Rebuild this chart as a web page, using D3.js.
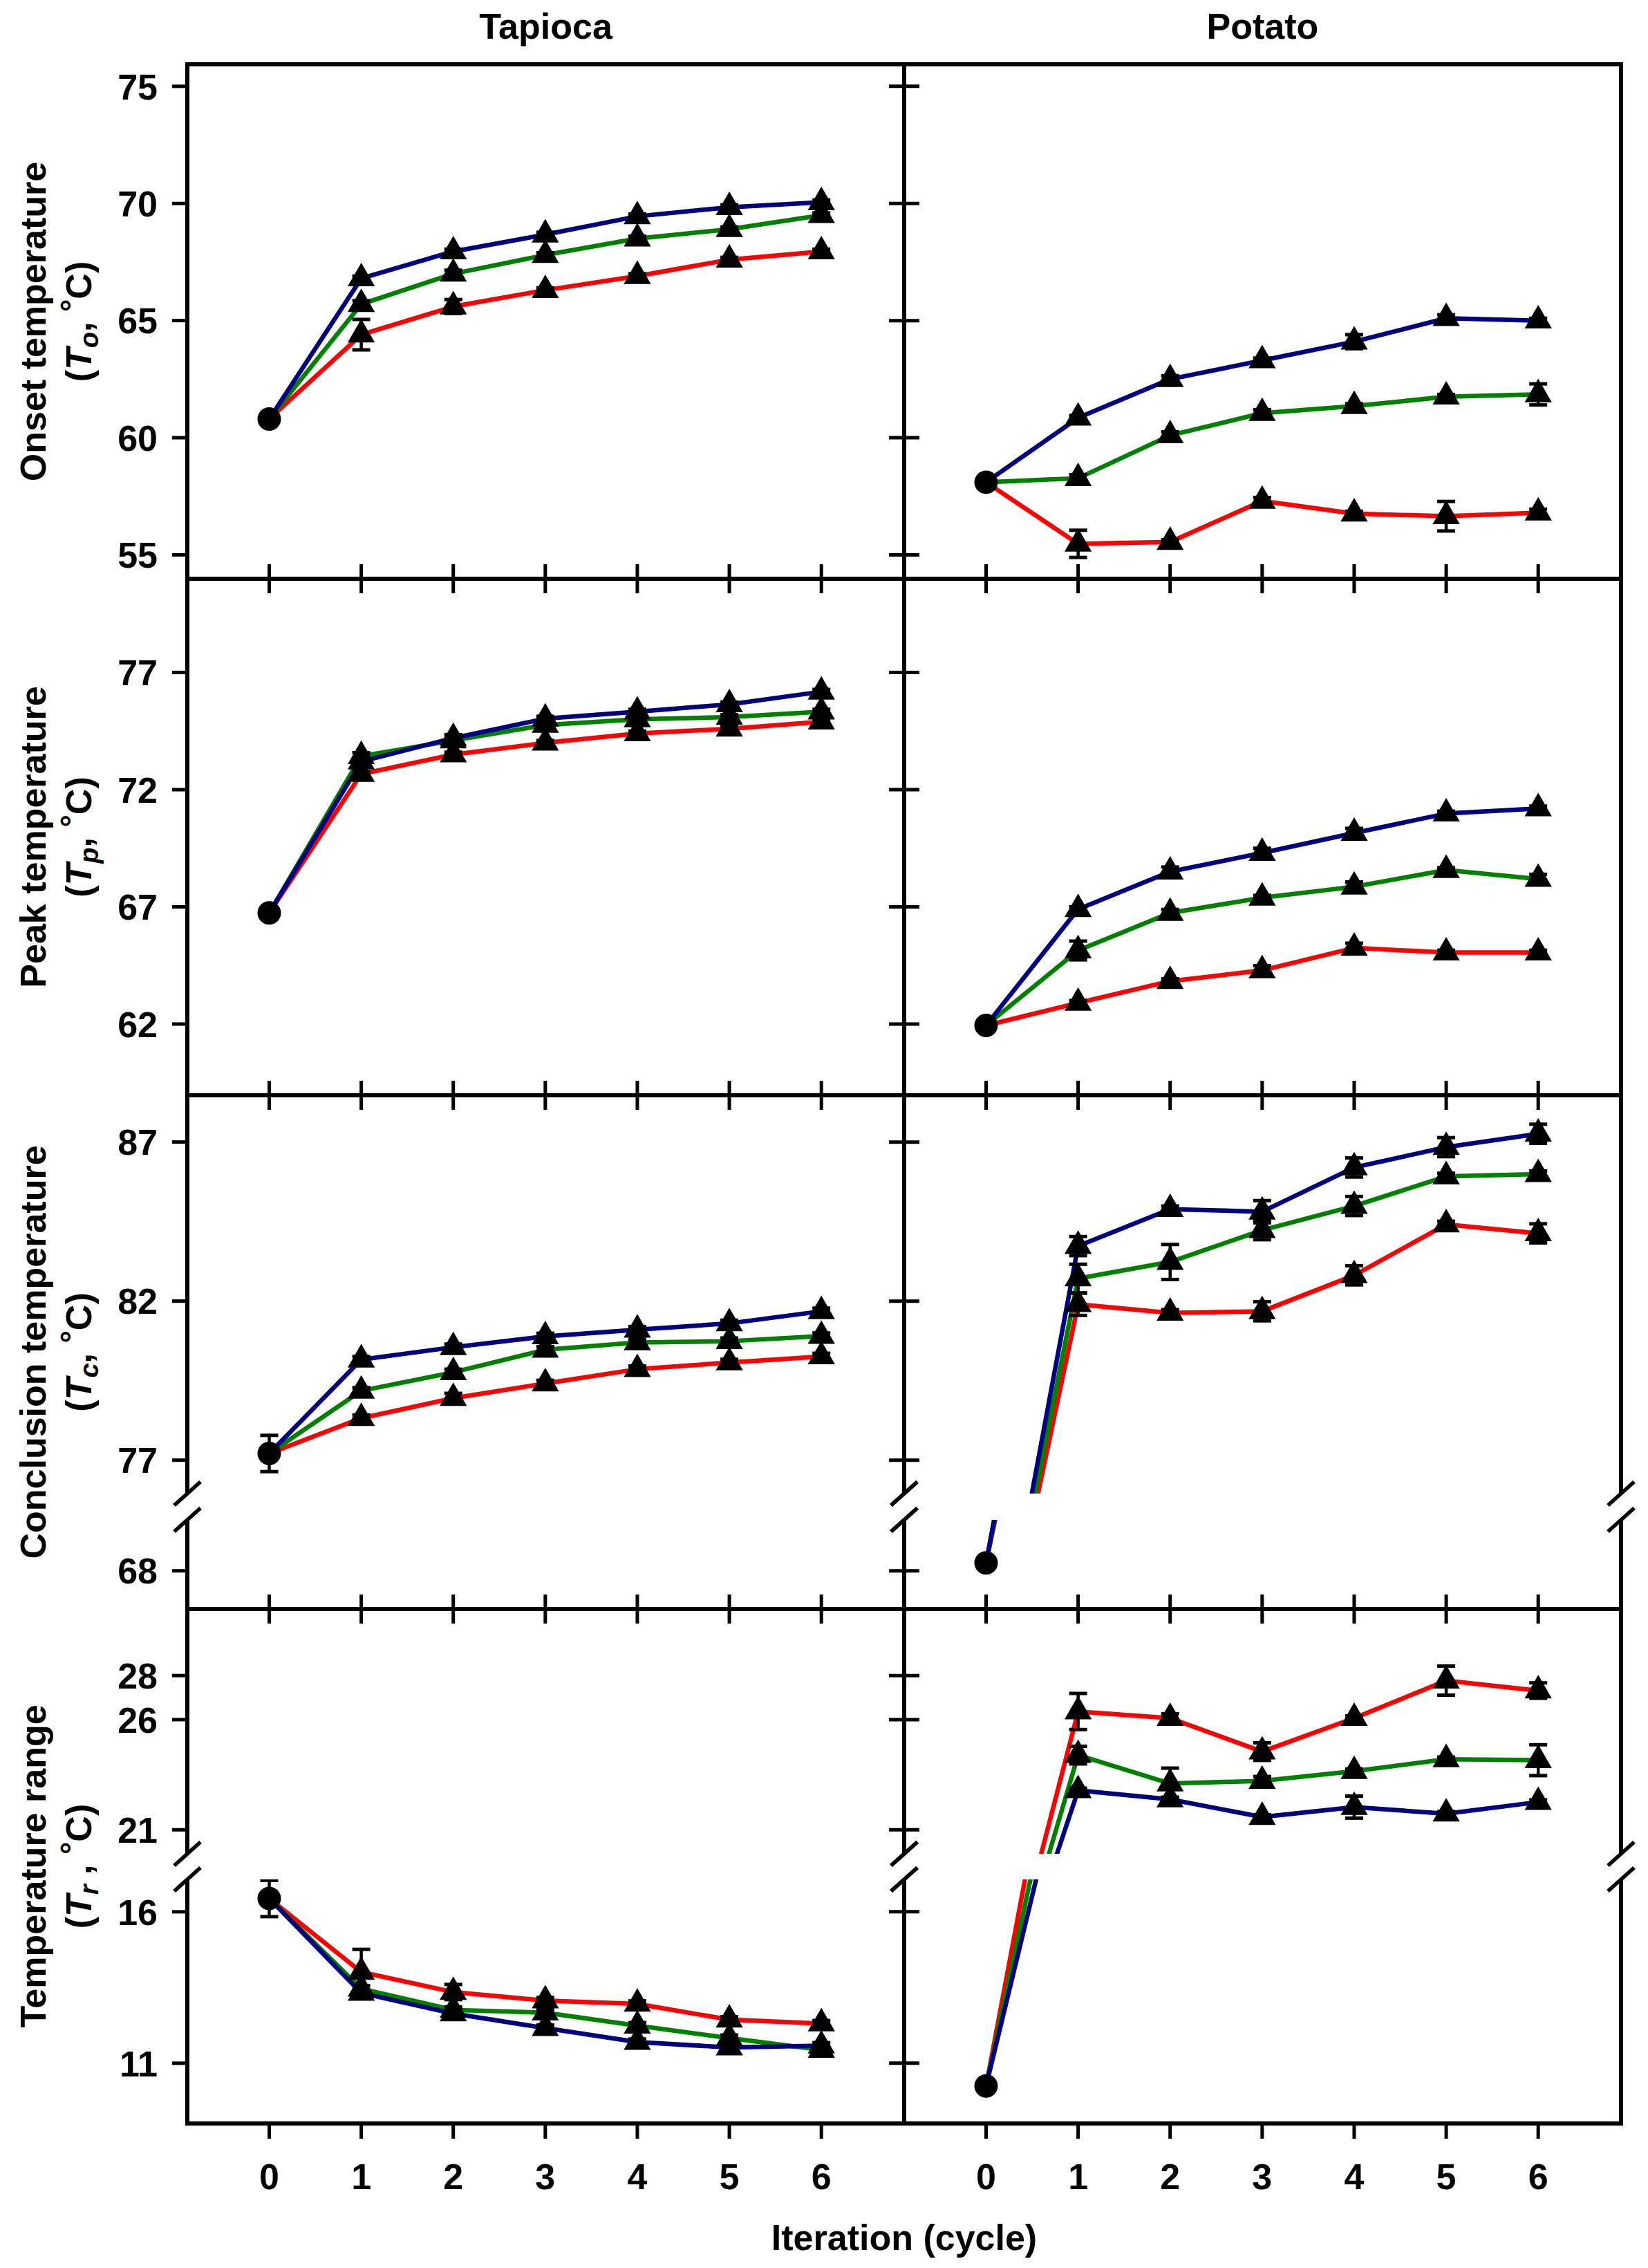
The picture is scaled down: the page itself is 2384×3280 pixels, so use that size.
<!DOCTYPE html>
<html><head><meta charset="utf-8">
<script src="https://cdn.jsdelivr.net/npm/d3@7/dist/d3.min.js"></script>
<style>
body{margin:0;background:#fff}
svg{display:block;background:#fff}
text{font-family:"Liberation Sans",Arial,Helvetica,sans-serif;font-weight:bold;fill:#000}
</style>
</head><body>
<svg id="chart" width="2384" height="3280"></svg>
<script>
// ---------------- DATA ----------------
const cycles = [0, 1, 2, 3, 4, 5, 6];
const xTickLabels = ["0", "1", "2", "3", "4", "5", "6"];
const columnTitles = ["Tapioca", "Potato"];
const seriesNames = ["Series 1", "Series 2", "Series 3"];

// Onset temperature (To, °C)
const tapOnset1 = [60.8, 64.4, 65.6, 66.3, 66.9, 67.6, 67.95];
const tapOnset2 = [60.8, 65.7, 67.0, 67.8, 68.5, 68.9, 69.5];
const tapOnset3 = [60.8, 66.8, 67.95, 68.67, 69.45, 69.84, 70.05];
const tapOnsetErr1 = [0.1, 0.65, 0.3, 0.1, 0.1, 0.1, 0.1];
const tapOnsetErr2 = [0.1, 0.15, 0.15, 0.1, 0.1, 0.1, 0.1];
const tapOnsetErr3 = [0.1, 0.1, 0.1, 0.1, 0.1, 0.1, 0.1];
const potOnset1 = [58.1, 55.47, 55.55, 57.3, 56.76, 56.65, 56.8];
const potOnset2 = [58.1, 58.27, 60.1, 61.05, 61.35, 61.75, 61.85];
const potOnset3 = [58.1, 60.85, 62.5, 63.3, 64.1, 65.1, 65.0];
const potOnsetErr1 = [0.1, 0.58, 0.1, 0.15, 0.1, 0.63, 0.15];
const potOnsetErr2 = [0.1, 0.15, 0.15, 0.15, 0.1, 0.1, 0.45];
const potOnsetErr3 = [0.1, 0.1, 0.15, 0.1, 0.3, 0.15, 0.1];

// Peak temperature (Tp, °C)
const tapPeak1 = [66.74, 72.67, 73.5, 74.0, 74.4, 74.6, 74.9];
const tapPeak2 = [66.74, 73.43, 74.1, 74.76, 75.0, 75.1, 75.33];
const tapPeak3 = [66.74, 73.2, 74.2, 75.03, 75.33, 75.64, 76.18];
const tapPeakErr1 = [0.1, 0.1, 0.1, 0.1, 0.1, 0.1, 0.1];
const tapPeakErr2 = [0.1, 0.15, 0.1, 0.1, 0.1, 0.1, 0.1];
const tapPeakErr3 = [0.1, 0.1, 0.15, 0.1, 0.1, 0.1, 0.1];
const potPeak1 = [61.94, 62.9, 63.83, 64.29, 65.25, 65.05, 65.05];
const potPeak2 = [61.94, 65.14, 66.74, 67.39, 67.86, 68.57, 68.19];
const potPeak3 = [61.94, 66.9, 68.5, 69.3, 70.15, 70.98, 71.2];
const potPeakErr1 = [0.1, 0.1, 0.1, 0.2, 0.2, 0.1, 0.1];
const potPeakErr2 = [0.1, 0.4, 0.15, 0.1, 0.2, 0.1, 0.2];
const potPeakErr3 = [0.1, 0.1, 0.2, 0.2, 0.2, 0.1, 0.1];

// Conclusion temperature (Tc, °C)
const tapConcl1 = [77.21, 78.32, 78.95, 79.41, 79.86, 80.07, 80.26];
const tapConcl2 = [77.21, 79.18, 79.76, 80.47, 80.70, 80.74, 80.9];
const tapConcl3 = [77.21, 80.16, 80.55, 80.89, 81.1, 81.3, 81.68];
const tapConclErr1 = [0.57, 0.1, 0.15, 0.1, 0.1, 0.1, 0.1];
const tapConclErr2 = [0.57, 0.1, 0.1, 0.1, 0.1, 0.1, 0.1];
const tapConclErr3 = [0.57, 0.1, 0.1, 0.1, 0.1, 0.1, 0.1];
const potConcl1 = [68.25, 81.9, 81.63, 81.68, 82.81, 84.41, 84.13];
const potConcl2 = [68.25, 82.71, 83.23, 84.23, 84.99, 85.92, 85.99];
const potConcl3 = [68.25, 83.73, 84.89, 84.81, 86.2, 86.84, 87.26];
const potConclErr1 = [0.1, 0.35, 0.1, 0.3, 0.3, 0.1, 0.3];
const potConclErr2 = [0.1, 0.45, 0.55, 0.3, 0.3, 0.1, 0.1];
const potConclErr3 = [0.1, 0.3, 0.1, 0.35, 0.3, 0.3, 0.3];

// Temperature range (Tr, °C)
const tapRange1 = [16.44, 14.01, 13.35, 13.07, 12.96, 12.44, 12.31];
const tapRange2 = [16.44, 13.46, 12.76, 12.67, 12.24, 11.83, 11.44];
const tapRange3 = [16.44, 13.32, 12.64, 12.16, 11.70, 11.52, 11.58];
const tapRangeErr1 = [0.6, 0.75, 0.25, 0.1, 0.1, 0.1, 0.1];
const tapRangeErr2 = [0.6, 0.1, 0.1, 0.1, 0.1, 0.1, 0.1];
const tapRangeErr3 = [0.6, 0.1, 0.1, 0.1, 0.1, 0.1, 0.1];
const potRange1 = [10.25, 26.37, 26.07, 24.55, 26.07, 27.77, 27.32];
const potRange2 = [10.25, 24.39, 23.1, 23.22, 23.66, 24.2, 24.16];
const potRange3 = [10.25, 22.79, 22.38, 21.58, 22.03, 21.73, 22.26];
const potRangeErr1 = [0.1, 0.82, 0.2, 0.4, 0.1, 0.66, 0.35];
const potRangeErr2 = [0.1, 0.4, 0.7, 0.2, 0.1, 0.1, 0.7];
const potRangeErr3 = [0.1, 0.1, 0.1, 0.1, 0.5, 0.1, 0.1];

// Axis tick labels / ranges
const onsetTicks = [55, 60, 65, 70, 75];
const peakTicks = [62, 67, 72, 77];
const conclTicksUpper = [77, 82, 87];
const conclTicksLower = [68];
const rangeTicksUpper = [21, 26, 28];
const rangeTicksLower = [11, 16];
const xDomain = [-0.89, 6.9];
const onsetDomain = [53.98, 75.94];
const peakDomain = [58.96, 81.0];
const conclDomainUpper = [75.95, 88.47];
const conclDomainLower = [66.8, 69.6];
const rangeDomainUpper = [19.91, 31.02];
const rangeDomainLower = [9.01, 17.07];

const rowTitleMain = ["Onset temperature", "Peak temperature", "Conclusion temperature", "Temperature range"];
const rowTitleSub = ["o", "p", "c", "r"];
const xAxisTitle = "Iteration (cycle)";

// ---------------- STYLE / LAYOUT ----------------
const seriesColors = ["#ff0000", "#008000", "#000080"];
const panelX = [[271, 1308], [1308, 2345]];
const rowBands = [
  [{y0: 93, y1: 837, dom: onsetDomain, ticks: onsetTicks}],
  [{y0: 837, y1: 1584, dom: peakDomain, ticks: peakTicks}],
  [{y0: 1584, y1: 2160, dom: conclDomainUpper, ticks: conclTicksUpper},
   {y0: 2198, y1: 2327, dom: conclDomainLower, ticks: conclTicksLower}],
  [{y0: 2327, y1: 2681, dom: rangeDomainUpper, ticks: rangeTicksUpper},
   {y0: 2718, y1: 3071, dom: rangeDomainLower, ticks: rangeTicksLower}]
];
const rowTop = [93, 837, 1584, 2327];
const rowBottom = [837, 1584, 2327, 3071];

const panelData = [
  [ {vals: [tapOnset1, tapOnset2, tapOnset3], errs: [tapOnsetErr1, tapOnsetErr2, tapOnsetErr3]},
    {vals: [potOnset1, potOnset2, potOnset3], errs: [potOnsetErr1, potOnsetErr2, potOnsetErr3]} ],
  [ {vals: [tapPeak1, tapPeak2, tapPeak3], errs: [tapPeakErr1, tapPeakErr2, tapPeakErr3]},
    {vals: [potPeak1, potPeak2, potPeak3], errs: [potPeakErr1, potPeakErr2, potPeakErr3]} ],
  [ {vals: [tapConcl1, tapConcl2, tapConcl3], errs: [tapConclErr1, tapConclErr2, tapConclErr3]},
    {vals: [potConcl1, potConcl2, potConcl3], errs: [potConclErr1, potConclErr2, potConclErr3]} ],
  [ {vals: [tapRange1, tapRange2, tapRange3], errs: [tapRangeErr1, tapRangeErr2, tapRangeErr3]},
    {vals: [potRange1, potRange2, potRange3], errs: [potRangeErr1, potRangeErr2, potRangeErr3]} ]
];

const svg = d3.select("#chart");
svg.append("rect").attr("width", 2384).attr("height", 3280).attr("fill", "#fff");
const defs = svg.append("defs");
const FONT = 52;
const triSym = d3.symbol().type(d3.symbolTriangle).size(670);
let clipId = 0;

// Column titles
columnTitles.forEach((t, c) => {
  svg.append("text").attr("x", (panelX[c][0] + panelX[c][1]) / 2).attr("y", 56)
    .attr("text-anchor", "middle").attr("font-size", FONT).text(t);
});

rowBands.forEach((bands, r) => {
  panelX.forEach((px, c) => {
    const x = d3.scaleLinear().domain(xDomain).range(px);
    const pd = panelData[r][c];
    const g = svg.append("g");
    bands.forEach(b => {
      const y = d3.scaleLinear().domain(b.dom).range([b.y1, b.y0]);
      const id = "clip" + (clipId++);
      defs.append("clipPath").attr("id", id).append("rect")
        .attr("x", px[0]).attr("y", b.y0).attr("width", px[1] - px[0]).attr("height", b.y1 - b.y0);
      const gc = g.append("g").attr("clip-path", `url(#${id})`);
      const line = d3.line().x(d => x(d[0])).y(d => y(d[1]));
      pd.vals.forEach((vals, s) => {
        gc.append("path").datum(cycles.map((cy, i) => [cy, vals[i]]))
          .attr("d", line).attr("fill", "none").attr("stroke", seriesColors[s])
          .attr("stroke-width", 6.5).attr("stroke-linejoin", "round");
      });
      const inDom = v => v >= b.dom[0] && v <= b.dom[1];
      // error bars
      pd.vals.forEach((vals, s) => {
        cycles.forEach((cy, i) => {
          if (!inDom(vals[i])) return;
          if (i === 0 && s > 0) return;
          const e = pd.errs[s][i];
          const cx = x(cy), yt = y(vals[i] + e), yb = y(vals[i] - e);
          gc.append("line").attr("x1", cx).attr("x2", cx).attr("y1", yt).attr("y2", yb)
            .attr("stroke", "#000").attr("stroke-width", 4.5);
          [yt, yb].forEach(yy => gc.append("line").attr("x1", cx - 13).attr("x2", cx + 13)
            .attr("y1", yy).attr("y2", yy).attr("stroke", "#000").attr("stroke-width", 5));
        });
      });
      // markers
      pd.vals.forEach((vals, s) => {
        cycles.forEach((cy, i) => {
          if (!inDom(vals[i])) return;
          if (i === 0) {
            if (s === 0) g.append("circle").attr("cx", x(cy)).attr("cy", y(vals[i])).attr("r", 17).attr("fill", "#000");
          } else {
            g.append("path").attr("d", triSym).attr("transform", `translate(${x(cy)},${y(vals[i])})`).attr("fill", "#000");
          }
        });
      });
      // y ticks
      b.ticks.forEach(t => {
        const ty = y(t);
        if (c === 0) {
          svg.append("line").attr("x1", px[0] - 22).attr("x2", px[0]).attr("y1", ty).attr("y2", ty)
            .attr("stroke", "#000").attr("stroke-width", 5);
          svg.append("text").attr("x", px[0] - 43).attr("y", ty).attr("dy", "0.36em")
            .attr("text-anchor", "end").attr("font-size", FONT).text(t);
        } else {
          svg.append("line").attr("x1", px[0] - 22).attr("x2", px[0] + 22).attr("y1", ty).attr("y2", ty)
            .attr("stroke", "#000").attr("stroke-width", 5);
        }
      });
      // vertical frame segments
      [px[0], px[1]].forEach(vx => {
        svg.append("line").attr("x1", vx).attr("x2", vx).attr("y1", b.y0).attr("y2", b.y1)
          .attr("stroke", "#000").attr("stroke-width", 6);
      });
    });
    // break marks
    if (bands.length > 1) {
      const yA = bands[0].y1, yB = bands[1].y0;
      [px[0], px[1]].forEach(vx => {
        [yA, yB].forEach(yy => {
          svg.append("line").attr("x1", vx - 19).attr("y1", yy + 17).attr("x2", vx + 19).attr("y2", yy - 17)
            .attr("stroke", "#000").attr("stroke-width", 5.5);
        });
      });
    }
    // horizontal frame
    [rowTop[r], rowBottom[r]].forEach(hy => {
      svg.append("line").attr("x1", px[0] - 3).attr("x2", px[1] + 3).attr("y1", hy).attr("y2", hy)
        .attr("stroke", "#000").attr("stroke-width", 6);
    });
    // x ticks
    cycles.forEach(cy => {
      const tx = x(cy);
      if (r > 0) {
        svg.append("line").attr("x1", tx).attr("x2", tx).attr("y1", rowTop[r] - 21).attr("y2", rowTop[r] + 21)
          .attr("stroke", "#000").attr("stroke-width", 5);
      }
      if (r === rowBands.length - 1) {
        svg.append("line").attr("x1", tx).attr("x2", tx).attr("y1", rowBottom[r]).attr("y2", rowBottom[r] + 22)
          .attr("stroke", "#000").attr("stroke-width", 5);
        svg.append("text").attr("x", tx).attr("y", 3166).attr("text-anchor", "middle")
          .attr("font-size", FONT).text(xTickLabels[cy]);
      }
    });
  });

  // row y-axis title
  const cyT = (rowTop[r] + rowBottom[r]) / 2;
  svg.append("text").attr("transform", `translate(66,${cyT}) rotate(-90)`)
    .attr("text-anchor", "middle").attr("font-size", FONT).text(rowTitleMain[r]);
  const t2 = svg.append("text").attr("transform", `translate(132,${cyT}) rotate(-90)`)
    .attr("text-anchor", "middle").attr("font-size", FONT);
  t2.append("tspan").text("(");
  t2.append("tspan").attr("font-style", "italic").text("T");
  t2.append("tspan").attr("font-style", "italic").attr("font-size", 38).attr("dy", 10).text(rowTitleSub[r]);
  t2.append("tspan").attr("dy", -10).text(r === 3 ? " , " : ", ");
  t2.append("tspan").attr("dy", -12).attr("font-size", 46).text("°");
  t2.append("tspan").attr("dy", 12).text("C)");
});

// x axis title
svg.append("text").attr("x", 1308).attr("y", 3254).attr("text-anchor", "middle")
  .attr("font-size", FONT).text(xAxisTitle);
</script>
</body></html>
